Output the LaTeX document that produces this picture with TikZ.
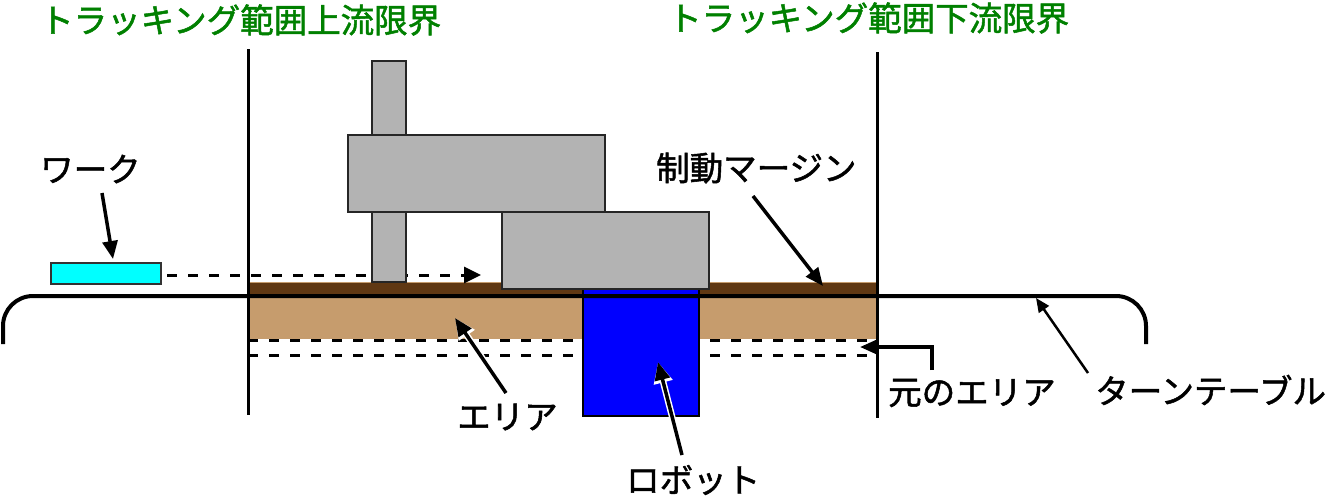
\documentclass[tikz,border=0pt]{standalone}
\usepackage{fontspec}
\setmainfont{Noto Sans CJK JP}[BoldFont={Noto Sans CJK JP}, BoldFeatures={FakeBold=1.5}]
\usetikzlibrary{arrows.meta}
\definecolor{ttgreen}{RGB}{0,128,0}
\definecolor{lbrown}{RGB}{198,156,109}
\definecolor{dbrown}{RGB}{96,56,19}
\definecolor{armgray}{RGB}{179,179,179}
\definecolor{workcyan}{RGB}{0,255,255}
\begin{document}
\begin{tikzpicture}[x=1pt,y=-1pt,
  lbl/.style={inner sep=0pt, font=\fontsize{33.5}{38}\selectfont\bfseries, anchor=west},
  ttl/.style={lbl, text=ttgreen},
  blk/.style={draw=black!85, line width=2pt, fill=armgray},
  ptr/.style={line width=3.5pt, -{Triangle[length=18pt,width=15pt]}},
  haloln/.style={draw=white, line width=6.5pt, -{Triangle[length=21pt,width=18pt]}},
  dashln/.style={line width=3pt, dash pattern=on 10pt off 11pt},
  ]
\useasboundingbox (0,0) rectangle (1332,499);
% tracking area
\fill[lbrown] (248,296) rectangle (877,339);
\fill[dbrown] (248,282) rectangle (877,296);
\draw[lbrown, line width=1pt] (248,282.5) -- (877,282.5);
\draw[dashln] (248,340) -- (877,340);
\draw[dashln] (248,355) -- (877,355);
% robot base
\draw[fill=blue, line width=2pt] (583,289) rectangle (699,416);
% turntable
\draw[line width=4pt, rounded corners=30pt] (3,344) -- (3,296) -- (1146,296) -- (1146,344);
% limits
\draw[line width=3pt] (248,49) -- (248,415);
\draw[line width=3pt] (877,52) -- (877,418);
% work and its motion
\draw[fill=workcyan, draw=black!80, line width=2pt] (51,263) rectangle (161,284);
\coordinate (mvS) at (167,275);
\coordinate (mvT) at (481,275);
\draw[dashln, -{Triangle[length=17pt,width=16pt]}] (mvS) -- (mvT);
% robot arm
\draw[blk] (372,61) rectangle (406,282);
\draw[blk] (348,135) rectangle (605,212);
\draw[blk] (502,212) rectangle (709,289);
% labels
\node[ttl] (up) at (40,20) {トラッキング範囲上流限界};
\node[ttl] (down) at (668,18) {トラッキング範囲下流限界};
\node[lbl] (work) at (40,169) {ワーク};
\node[lbl] (brake) at (656,168) {制動マージン};
\node[lbl] (area) at (457,417) {エリア};
\node[lbl] (robotl) at (626,480) {ロボット};
\node[lbl] (orig) at (888,393) {元のエリア};
\node[lbl] (tt) at (1095,390) {ターンテーブル};
% pointers
\coordinate (workS) at (102,193);
\coordinate (workT) at (113,259);
\draw[ptr] (workS) -- (workT);
\coordinate (brakeS) at (753,196);
\coordinate (brakeT) at (823,286);
\draw[ptr] (brakeS) -- (brakeT);
\coordinate (areaS) at (506,393);
\coordinate (areaT) at (455,318);
\draw[haloln] (areaS) -- (areaT);
\draw[ptr] (areaS) -- (areaT);
\coordinate (robS) at (682,455);
\coordinate (robT) at (658,362);
\draw[haloln] (robS) -- (robT);
\draw[ptr] (robS) -- (robT);
\coordinate (origS) at (932,370);
\coordinate (origT) at (860,347);
\draw[ptr] (origS) |- (origT);
\coordinate (ttS) at (1088,373);
\coordinate (ttT) at (1036,298);
\draw[line width=2.5pt, -{Triangle[length=14pt,width=12pt]}] (ttS) -- (ttT);
\end{tikzpicture}
\end{document}
